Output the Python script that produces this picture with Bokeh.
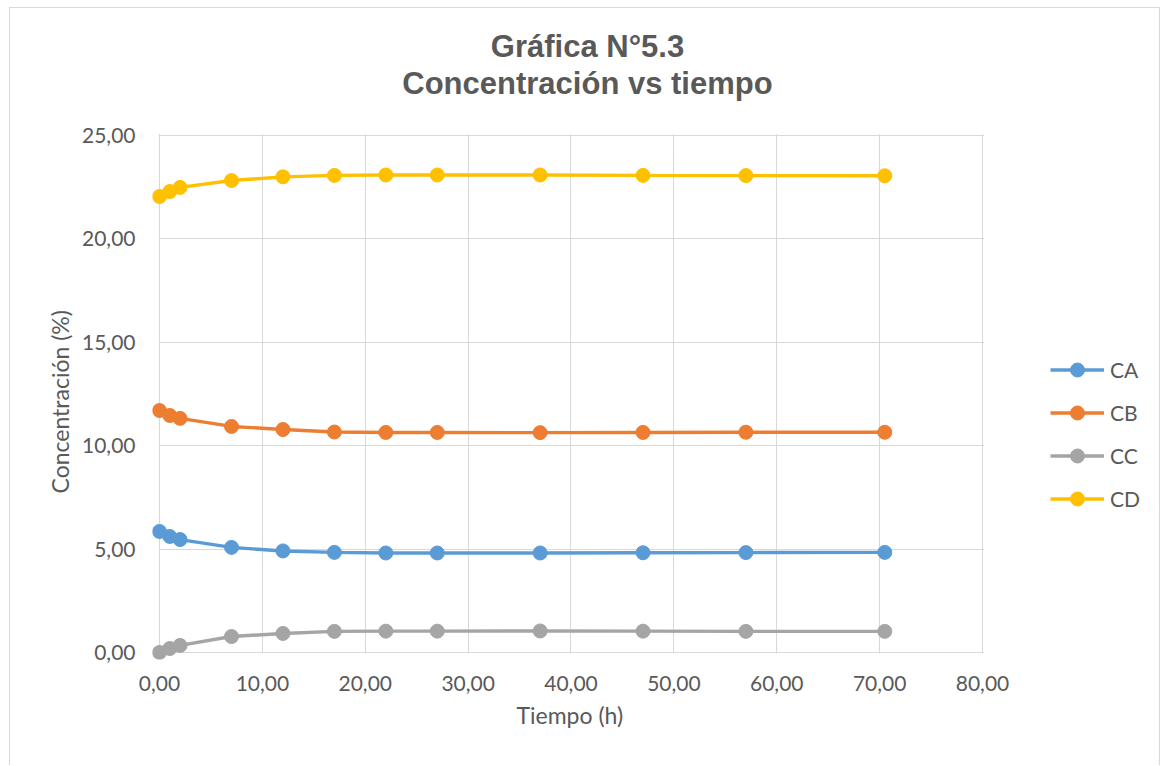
from bokeh.plotting import figure
from bokeh.models import (Range1d, FixedTicker, CustomJSTickFormatter, Label, Legend, LegendItem,
                          BoxAnnotation, Title)
from bokeh.embed import file_html
from bokeh.resources import INLINE

# ---- data ----
tiempo = [0, 1, 2, 7, 12, 17, 22, 27, 37, 47, 57, 70.5]
CA = [5.85, 5.61, 5.46, 5.08, 4.91, 4.84, 4.81, 4.81, 4.81, 4.82, 4.83, 4.84]
CB = [11.70, 11.46, 11.32, 10.93, 10.78, 10.66, 10.64, 10.64, 10.63, 10.64, 10.65, 10.65]
CC = [0.00, 0.19, 0.34, 0.77, 0.92, 1.02, 1.03, 1.03, 1.04, 1.03, 1.02, 1.02]
CD = [22.05, 22.29, 22.49, 22.82, 23.00, 23.07, 23.09, 23.09, 23.09, 23.07, 23.06, 23.05]
series_names = ["CA", "CB", "CC", "CD"]
series_colors = ["#5B9BD5", "#ED7D31", "#A5A5A5", "#FFC000"]
x_ticks = [0, 10, 20, 30, 40, 50, 60, 70, 80]
y_ticks = [0, 5, 10, 15, 20, 25]
title_lines = ["Gráfica N°5.3", "Concentración vs tiempo"]
x_label = "Tiempo (h)"
y_label = "Concentración (%)"

TXT = "#595959"
GRID = "#d9d9d9"
FONT = "Lato"
X0, X1 = x_ticks[0], x_ticks[-1]
Y0, Y1 = y_ticks[0], y_ticks[-1]

# frame covers the whole chart area; plot area (0..80, 0..25) sits inside it
p = figure(width=1151, height=758, output_backend="svg", toolbar_location=None, title=None,
           x_range=Range1d(-0.68, 97.40), y_range=Range1d(-0.34, 31.14),
           min_border_left=142, min_border_right=0, min_border_top=0, min_border_bottom=107)
p.styles = {"margin-left": "9px", "margin-top": "7px",
            "border-left": "1px solid #d9d9d9", "border-top": "1px solid #d9d9d9",
            "border-right": "1px solid #d9d9d9"}
p.outline_line_color = None
p.background_fill_color = "white"
p.border_fill_color = "white"

fmt = CustomJSTickFormatter(code="return tick.toFixed(2).replace('.', ',');")
for ax, ticks in ((p.xaxis[0], x_ticks), (p.yaxis[0], y_ticks)):
    ax.ticker = FixedTicker(ticks=ticks)
    ax.bounds = (ticks[0], ticks[-1])
    ax.formatter = fmt
    ax.axis_line_color = None
    ax.major_tick_line_color = None
    ax.minor_tick_line_color = None
    ax.major_label_text_font = FONT
    ax.major_label_text_font_size = "21px"
    ax.major_label_text_color = TXT
p.xaxis[0].major_label_standoff = 10
p.yaxis[0].major_label_standoff = 11

# axis titles, positioned over the plot area (0..80 / 0..25)
p.add_layout(Title(text=x_label, align="left", offset=364, standoff=11,
                   text_font=FONT, text_font_style="normal", text_font_size="23px",
                   text_color=TXT), "below")
p.add_layout(Title(text=y_label, align="left", offset=166, standoff=11,
                   text_font=FONT, text_font_style="normal", text_font_size="23px",
                   text_color=TXT), "left")

p.xgrid.ticker = FixedTicker(ticks=x_ticks)
p.ygrid.ticker = FixedTicker(ticks=y_ticks)
p.grid.grid_line_color = GRID
p.grid.grid_line_width = 1

# white masks so the grid only covers the plot area
masks = [dict(right=X0 - 0.08), dict(top=Y0 - 0.05), dict(left=X1 + 0.15), dict(bottom=Y1 + 0.07)]
for m in masks:
    p.add_layout(BoxAnnotation(level="underlay", fill_color="white", fill_alpha=1,
                               line_color=None, **m))

items = []
for name, col, ys in zip(series_names, series_colors, [CA, CB, CC, CD]):
    r1 = p.line(tiempo, ys, line_color=col, line_width=3.4)
    r2 = p.scatter(tiempo, ys, size=14, fill_color=col, line_color=col)
    items.append(LegendItem(label=name, renderers=[r1, r2]))

legend = Legend(items=items, location=(898, 143), glyph_width=54, glyph_height=35,
                spacing=8, padding=0, margin=0, label_standoff=6,
                label_text_font=FONT, label_text_font_size="21px", label_text_color=TXT,
                background_fill_alpha=0, border_line_color=None)
p.add_layout(legend, "center")

for txt, yy in zip(title_lines, [29.30, 27.51]):
    p.add_layout(Label(x=41.6, y=yy, text=txt, text_align="center", text_baseline="middle",
                       text_font="Liberation Sans", text_font_style="bold",
                       text_font_size="31px", text_color=TXT))

open("out.html", "w").write(file_html(p, INLINE))
